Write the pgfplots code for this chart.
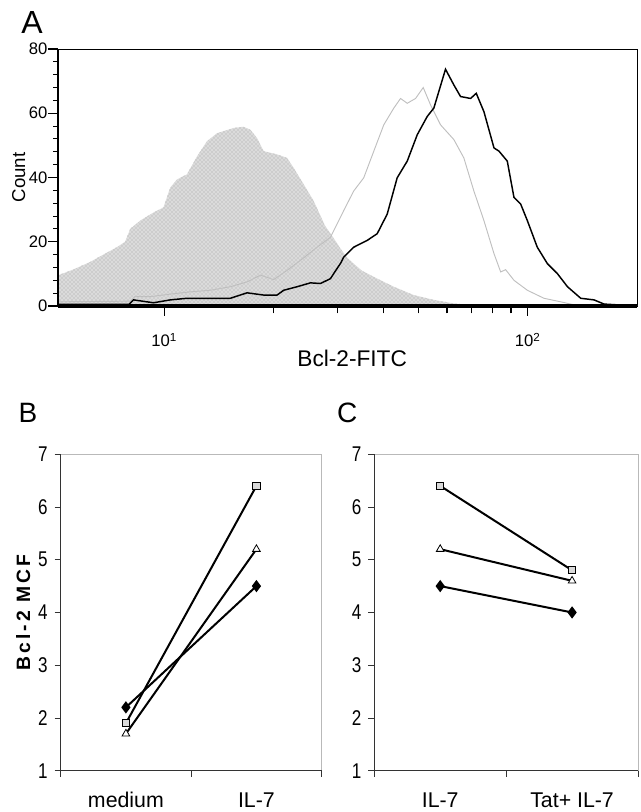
\documentclass[border=0pt]{standalone}
\usepackage{fontspec}
\setmainfont{Liberation Sans}
\newfontfamily\spacedfont[LetterSpace=16]{Liberation Sans}
\usepackage{pgfplots}
\pgfplotsset{compat=1.18}
\usetikzlibrary{patterns}
\pgfplotsset{/pgf/number format/assume math mode=true}

\pgfplotsset{
  mcfpanel/.style={
    anchor=south west, scale only axis,
    height=237.3pt,
    xmin=0, xmax=2, ymin=1, ymax=7,
    xtick={0,1,2}, xticklabels={,,},
    extra x ticks={0.5,1.5},
    extra x tick style={major tick length=0pt},
    ytick={1,2,...,7},
    tick pos=left, tick align=outside,
    major tick length=4.5pt,
    axis line style={gray!55, line width=0.5pt},
    tick style={gray!40!black, line width=0.6pt},
    yticklabel style={font=\fontsize{16}{18}\selectfont, xscale=0.8, xshift=-3pt},
    xticklabel style={font=\fontsize{16}{18}\selectfont, anchor=center, yshift=-22pt},
    clip=false,
  },
  sqr/.style={black, line width=1.5pt, mark=square*, mark size=2.7pt,
    mark options={fill=gray!30, draw=black, line width=0.6pt}},
  tri/.style={black, line width=1.5pt, mark=triangle*, mark size=3.3pt,
    mark options={fill=white, draw=black, line width=0.6pt}},
  dia/.style={black, line width=1.5pt, mark=diamond*, mark size=3.4pt,
    mark options={fill=black, draw=black}},
}

\begin{document}
\begin{tikzpicture}[x=1pt,y=1pt]
\path[use as bounding box] (0,0) rectangle (480,609);

% ---- panel A: histogram ----
\begin{axis}[
  at={(43.5pt,379.5pt)}, anchor=south west,
  scale only axis, width=434.25pt, height=192.75pt,
  xmode=log, xmin=5.1, xmax=200, ymin=0, ymax=80,
  xtick={10,100}, xticklabels={10\textsuperscript{1},10\textsuperscript{2}},
  extra x ticks={20,30,40,50,60,70,80,90}, extra x tick labels={},
  extra x tick style={major tick length=5.5pt},
  ytick={0,20,40,60,80}, minor y tick num=4,
  tick pos=left, tick align=outside,
  major tick length=7.5pt, minor tick length=3.5pt,
  tick style={black, line width=0.8pt},
  axis line style={black, line width=0.7pt},
  yticklabel style={font=\fontsize{12.5}{14}\selectfont, xshift=3pt},
  xticklabel style={font=\fontsize{12.5}{14}\selectfont, anchor=center, yshift=-18pt},
  ylabel={Count}, xlabel={Bcl-2-FITC},
  every axis y label/.style={at={(rel axis cs:0,0.5)}, xshift=-29.5pt, rotate=90,
    anchor=center, font=\fontsize{14}{16}\selectfont},
  every axis x label/.style={at={(rel axis cs:0.5,0)}, anchor=center,
    xshift=3.5pt, yshift=-39pt, font=\fontsize{17}{19}\selectfont},
  clip=false,
]
\addplot[draw=none, fill=gray!28,
  postaction={pattern=crosshatch dots, pattern color=gray!75}]
  coordinates {
  (5.1,9.6) (5.17,9.8) (5.63,11.4) (6.25,13.7) (6.95,16.6) (7.41,18.3)
  (7.8,20) (8.06,24) (8.59,26.6) (9.34,29.1) (9.95,30.7) (10.39,36.9)
  (10.84,39.4) (11.55,41) (12.31,46.6) (13.11,51.3) (13.97,53.8)
  (15.52,55.4) (16.5,55.8) (17.26,54.9) (18.0,52.3) (18.78,48.2)
  (20.44,47.2) (21.78,46.1) (22.71,43) (24.19,37.9) (25.78,32.7)
  (27.7,25) (29.3,21) (30.5,18) (31.9,15) (33.2,13.2) (35,11)
  (37.7,9.1) (42.8,6) (48.6,3.4) (55.2,1.9) (62.7,0.8) (71,0.2) (80,0)
  } \closedcycle;
\addplot[gray!50, line width=0.7pt] coordinates {
  (5.1,1.3) (8.06,1.5) (8.3,2.9) (9.15,2.9) (10.39,3.7) (11.79,4.4)
  (13.39,4.9) (15.2,6) (16.9,7.5) (18.39,9.6) (20.0,8.2) (21.78,11.1)
  (23.7,14.2) (26.34,18.3) (28.66,21.4) (30.53,27.6) (31.18,29.7)
  (33.22,35.8) (35.4,39.9) (37.73,48.2) (40.19,56.4) (42.83,61.6)
  (44.69,64.6) (46.63,63.1) (49.16,64.6) (51.6,68) (54.05,62.6)
  (57.58,56.4) (62.66,51.8) (66.75,46.1) (71.13,35.8) (75.8,26.6)
  (80.8,16.3) (84.3,10.6) (87.0,11.3) (91.7,8) (99.8,4.9) (110.9,2.4)
  (123.3,1.3) (135,0.3) (200,0.2)
  };
\addplot[black, line width=1.1pt] coordinates {
  (5.1,0.5) (8.0,0.5) (8.23,1.9) (9.34,1.0) (10.39,1.9) (11.55,2.4)
  (15.2,2.4) (16.9,4.1) (18.78,3.4) (20.44,3.4) (21.32,4.9) (23.21,6)
  (25.25,7.2) (26.9,7) (28.66,8.5) (29.27,10.1) (30.53,13.2) (31.18,15.2)
  (33.22,18.3) (36.17,20.4) (38.55,22.5) (41.07,28.6) (43.75,39.9)
  (46.63,45.1) (49.68,53.3) (52.93,59) (55.19,61.6) (59.43,73.7)
  (62.66,68.8) (65.37,65.2) (69.66,64.6) (72.22,66.2) (75.8,60.5)
  (80.8,49.2) (83.4,48.2) (87.9,45.1) (91.7,33.8) (95.7,31.7)
  (99.8,26.6) (106.3,18.3) (113.3,13.2) (120.7,10.1) (128.7,6)
  (140,2.4) (152.3,1.9) (162.3,0.6) (180,0.3) (200,0.3)
  };
\draw[black, line width=2pt] (rel axis cs:0,0) -- (rel axis cs:0,1);
\draw[black, line width=2.4pt] (rel axis cs:0,0) -- (rel axis cs:1,0);
\end{axis}

% ---- panel B ----
\begin{axis}[mcfpanel,
  at={(45.5pt,31pt)}, width=195.75pt,
  extra x tick labels={medium,IL-7},
  ylabel={{\spacedfont\bfseries Bcl-2 MCF}},
  every axis y label/.style={at={(rel axis cs:0,0.5)}, xshift=-28pt, rotate=90,
    anchor=center, font=\fontsize{14.5}{16}\selectfont},
]
\addplot[sqr] coordinates {(0.5,1.9) (1.5,6.4)};
\addplot[tri] coordinates {(0.5,1.7) (1.5,5.2)};
\addplot[dia] coordinates {(0.5,2.2) (1.5,4.5)};
\draw[gray!40!black, line width=0.6pt] (rel axis cs:0,0) -- (rel axis cs:0,1);
\draw[gray!40!black, line width=0.6pt] (rel axis cs:0,0) -- (rel axis cs:1,0);
\end{axis}

% ---- panel C ----
\begin{axis}[mcfpanel,
  at={(280.7pt,31pt)}, width=197.8pt,
  extra x tick labels={IL-7,Tat+ IL-7},
]
\addplot[sqr] coordinates {(0.5,6.4) (1.5,4.8)};
\addplot[tri] coordinates {(0.5,5.2) (1.5,4.6)};
\addplot[dia] coordinates {(0.5,4.5) (1.5,4.0)};
\draw[gray!40!black, line width=0.6pt] (rel axis cs:0,0) -- (rel axis cs:0,1);
\draw[gray!40!black, line width=0.6pt] (rel axis cs:0,0) -- (rel axis cs:1,0);
\end{axis}

% panel letters
\node[font=\fontsize{24}{24}\selectfont] at (24,592) {A};
\node[font=\fontsize{21}{21}\selectfont] at (21,299) {B};
\node[font=\fontsize{21}{21}\selectfont] at (260.5,299) {C};
\end{tikzpicture}
\end{document}
